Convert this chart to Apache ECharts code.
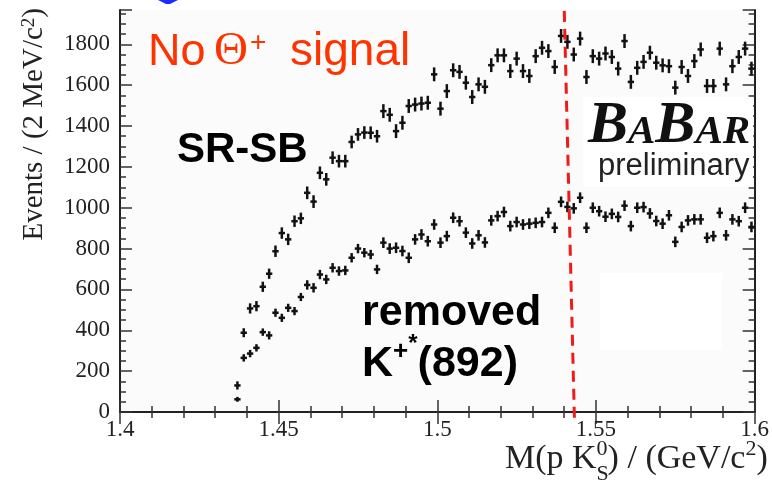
<!DOCTYPE html>
<html>
<head>
<meta charset="utf-8">
<script src="https://cdn.jsdelivr.net/npm/echarts@6/dist/echarts.min.js"></script>
<style>
  html, body { margin: 0; padding: 0; background: #ffffff; }
  #chart { width: 772px; height: 487px; }
</style>
</head>
<body>
<div id="chart"></div>
<script>
// Bin centres of M(p K0S), 2 MeV bins (GeV/c^2)
const massBins = [
  1.437,1.439,1.441,1.443,1.445,1.447,1.449,1.451,1.453,1.455,
  1.457,1.459,1.461,1.463,1.465,1.467,1.469,1.471,1.473,1.475,
  1.477,1.479,1.481,1.483,1.485,1.487,1.489,1.491,1.493,1.495,
  1.497,1.499,1.501,1.503,1.505,1.507,1.509,1.511,1.513,1.515,
  1.517,1.519,1.521,1.523,1.525,1.527,1.529,1.531,1.533,1.535,
  1.537,1.539,1.541,1.543,1.545,1.547,1.549,1.551,1.553,1.555,
  1.557,1.559,1.561,1.563,1.565,1.567,1.569,1.571,1.573,1.575,
  1.577,1.579,1.581,1.583,1.585,1.587,1.589,1.591,1.593,1.595,
  1.597,1.599
];

// Signal region minus sideband
const srMinusSb = [
  130,388,507,518,613,677,787,876,845,934,
  948,1073,1030,1171,1139,1245,1228,1228,1322,1359,
  1368,1367,1350,1473,1455,1375,1416,1498,1505,1510,
  1514,1653,1485,1571,1673,1665,1612,1542,1604,1592,
  1698,1746,1746,1669,1730,1669,1645,1742,1783,1767,
  1689,1841,1812,1750,1828,1640,1742,1730,1755,1738,
  1681,1816,1616,1685,1714,1759,1710,1697,1693,1588,
  1689,1645,1718,1775,1596,1596,1779,1604,1693,1738,
  1779,1681
];
const srMinusSbErr = [
  20,22,25,25,25,25,28,28,28,28,
  28,31,31,31,31,31,31,31,31,31,
  31,31,31,34,34,34,34,34,34,34,
  34,34,34,34,34,34,34,34,34,34,
  34,34,34,34,34,34,34,34,34,34,
  34,34,34,34,34,34,34,34,34,34,
  34,34,34,34,34,34,34,34,34,34,
  34,34,34,34,34,34,34,34,34,34,
  34,34
];

// Same selection with K*+(892) removed
const k892Removed = [
  62,265,286,314,391,375,486,461,510,494,
  563,622,608,673,649,706,690,693,755,800,
  780,771,698,829,800,804,788,755,845,869,
  836,918,829,861,951,934,878,825,865,830,
  938,959,979,910,930,918,922,926,930,975,
  902,1029,1004,997,1049,902,1000,983,956,970,
  955,1010,910,1000,1003,972,935,922,963,833,
  906,938,943,943,853,861,975,865,943,934,
  1000,906
];
const k892RemovedErr = [
  12,18,18,18,18,20,20,20,20,20,
  20,23,23,23,23,23,23,23,23,23,
  23,23,23,26,26,26,26,26,26,26,
  26,26,26,26,26,26,26,26,26,26,
  26,26,26,26,26,26,26,26,26,26,
  26,26,26,26,26,26,26,26,26,26,
  26,26,26,26,26,26,26,26,26,26,
  26,26,26,26,26,26,26,26,26,26,
  26,26
];

// Axis ranges and tick steps
const massRange = [1.4, 1.6];
const massStep = 0.05;
const eventsRange = [0, 1968];
const eventsStep = 200;
const binHalfWidth = 0.001;

// Expected Theta+ mass marker (end points: bottom, top)
const thetaLine = [[1.5432, -28], [1.540, 1968]];

const SERIF = '"Liberation Serif", "Times New Roman", serif';
const SANS = '"Liberation Sans", Arial, sans-serif';

const measureCtx = document.createElement('canvas').getContext('2d');
function textWidth(str, font) { measureCtx.font = font; return measureCtx.measureText(str).width; }

// Lay out a run of text pieces on a common baseline
function runText(x, baseline, pieces, color) {
  const out = [];
  let cx = x;
  pieces.forEach(p => {
    const font = `${p.italic ? 'italic' : 'normal'} ${p.bold ? 'bold' : 'normal'} ${p.size}px ${p.family || SANS}`;
    if (p.x !== undefined) cx = p.x;
    out.push({
      type: 'text', x: cx, y: baseline + (p.dy || 0) - 0.345 * p.size, z: 20,
      style: { text: p.text, font: font, fill: p.color || color, align: 'left', verticalAlign: 'middle' }
    });
    if (!p.overlay) cx += textWidth(p.text, font);
  });
  return out;
}

function crossItem(params, api) {
  const x = api.value(0), y = api.value(1), e = api.value(2);
  const top = api.coord([x, y + e]), bot = api.coord([x, y - e]);
  const l = api.coord([x - binHalfWidth, y]), r = api.coord([x + binHalfWidth, y]);
  const st = { stroke: '#111', lineWidth: 2.5 };
  return {
    type: 'group',
    children: [
      { type: 'line', shape: { x1: top[0], y1: top[1], x2: bot[0], y2: bot[1] }, style: st },
      { type: 'line', shape: { x1: l[0], y1: l[1], x2: r[0], y2: r[1] }, style: st }
    ]
  };
}

function markerItem(params, api) {
  const a = api.coord([api.value(0), api.value(1)]);
  const b = api.coord([api.value(2), api.value(3)]);
  return {
    type: 'line',
    shape: { x1: a[0], y1: a[1], x2: b[0], y2: b[1] },
    style: { stroke: '#f01a1a', lineWidth: 3, lineDash: [11, 7] }
  };
}

const frameLine = { show: true, lineStyle: { color: '#222', width: 2 } };
const majorTick = { show: true, inside: true, length: 12, lineStyle: { color: '#333', width: 1.5 } };
const minorTickX = { show: true, splitNumber: 5, length: 6, lineStyle: { color: '#333', width: 1.5 } };
const minorTickY = { show: true, splitNumber: 4, length: 6, lineStyle: { color: '#333', width: 1.5 } };
const tickFont = { fontFamily: SERIF, fontSize: 23, color: '#222' };

const xTitle = runText(505, 471, [
  { text: 'M(p K', size: 34, family: SERIF },
  { text: 'S', size: 22, family: SERIF, dy: 11, overlay: true },
  { text: '0', size: 22, family: SERIF, dy: -14 },
  { text: ') / (GeV/c', size: 34, family: SERIF },
  { text: '2', size: 22, family: SERIF, dy: -14 },
  { text: ')', size: 34, family: SERIF }
], '#222');

const noSignal = runText(148, 68, [
  { text: 'No', size: 45 },
  { text: '\u0398', size: 47, family: SERIF, x: 214 },
  { text: '+', size: 28, x: 250, dy: -15 },
  { text: 'signal', size: 46, x: 290 }
], '#ff3300');

const srsb = runText(177, 165, [{ text: 'SR-SB', size: 42, bold: true }], '#000');
const removed = runText(362, 328, [{ text: 'removed', size: 43, bold: true }], '#000');
const kstar = runText(362, 379, [
  { text: 'K', size: 43, bold: true },
  { text: '+', size: 26, bold: true, dy: -18 },
  { text: '*', size: 24, bold: true, dy: -26 },
  { text: '(892)', size: 43, bold: true }
], '#000');

const babar = runText(588, 147, [
  { text: 'B', size: 60, bold: true, italic: true, family: SERIF },
  { text: 'A', size: 41, bold: true, italic: true, family: SERIF },
  { text: 'B', size: 60, bold: true, italic: true, family: SERIF },
  { text: 'AR', size: 41, bold: true, italic: true, family: SERIF }
], '#111');
const prelim = runText(598, 177, [{ text: 'preliminary', size: 31 }], '#222');

const chart = echarts.init(document.getElementById('chart'), null, { renderer: 'canvas' });

chart.setOption({
  animation: false,
  backgroundColor: '#ffffff',
  grid: { left: 120, right: 7, top: 10, bottom: 75, show: true, backgroundColor: '#fbfbfb', borderWidth: 0 },
  xAxis: [
    {
      type: 'value', min: massRange[0], max: massRange[1], interval: massStep, position: 'bottom',
      axisLine: frameLine, axisTick: majorTick, minorTick: minorTickX, splitLine: { show: false },
      axisLabel: Object.assign({ margin: 6 }, tickFont)
    },
    {
      type: 'value', min: massRange[0], max: massRange[1], interval: massStep, position: 'top',
      axisLine: frameLine, axisTick: majorTick, minorTick: minorTickX, splitLine: { show: false },
      axisLabel: { show: false }
    }
  ],
  yAxis: [
    {
      type: 'value', min: eventsRange[0], max: eventsRange[1], interval: eventsStep, position: 'left',
      axisLine: frameLine, axisTick: majorTick, minorTick: minorTickY, splitLine: { show: false },
      axisLabel: Object.assign({ margin: 10, showMaxLabel: false, formatter: v => String(v) }, tickFont)
    },
    {
      type: 'value', min: eventsRange[0], max: eventsRange[1], interval: eventsStep, position: 'right',
      axisLine: frameLine, axisTick: majorTick, minorTick: minorTickY, splitLine: { show: false },
      axisLabel: { show: false }
    }
  ],
  graphic: [
    // faint white panels inside the frame
    { type: 'rect', shape: { x: 583, y: 97, width: 170, height: 90 }, style: { fill: '#ffffff' }, z: 1 },
    { type: 'rect', shape: { x: 600, y: 273, width: 122, height: 77 }, style: { fill: '#ffffff' }, z: 1 },
    // blue mark cut by the top edge
    { type: 'polygon', shape: { points: [[158, 0], [178, 0], [170, 4], [166, 4]] }, style: { fill: '#1a2cff' }, z: 20 },
    {
      type: 'text', x: 34, y: 8, rotation: Math.PI / 2, z: 20,
      style: {
        text: 'Events / (2 MeV/c{sup|2})', align: 'right', verticalAlign: 'middle',
        font: `29px ${SERIF}`, fill: '#222',
        rich: { sup: { fontFamily: SERIF, fontSize: 19, verticalAlign: 'top', fill: '#222' } }
      }
    },
    ...xTitle, ...noSignal, ...srsb, ...removed, ...kstar, ...babar, ...prelim
  ],
  series: [
    {
      name: 'SR-SB', type: 'custom', renderItem: crossItem, z: 5,
      data: massBins.map((m, i) => [m, srMinusSb[i], srMinusSbErr[i]])
    },
    {
      name: 'removed K*+(892)', type: 'custom', renderItem: crossItem, z: 5,
      data: massBins.map((m, i) => [m, k892Removed[i], k892RemovedErr[i]])
    },
    {
      name: 'Theta+ mass', type: 'custom', renderItem: markerItem, z: 6, clip: false,
      data: [[thetaLine[0][0], thetaLine[0][1], thetaLine[1][0], thetaLine[1][1]]]
    }
  ]
});
</script>
</body>
</html>
